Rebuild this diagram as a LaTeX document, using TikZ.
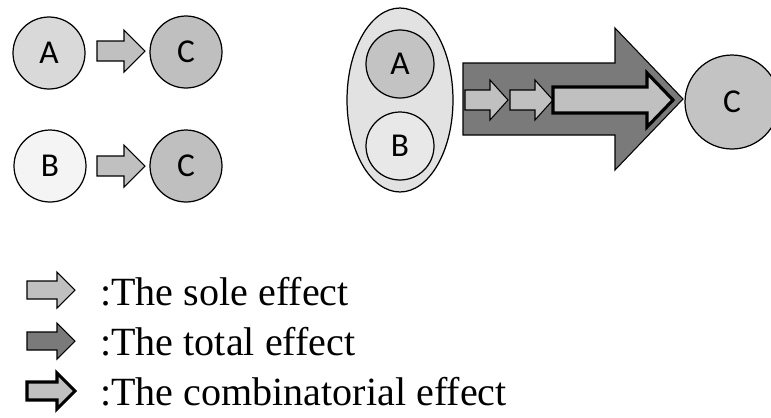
\documentclass[tikz,border=0pt]{standalone}
\usepackage{fontspec}
\setmainfont{Liberation Serif}
\newfontfamily\calibri{Carlito}
\usepackage{xcolor}
\usepackage{tikz}
\usetikzlibrary{shapes.geometric,positioning}

\definecolor{lightA}{HTML}{D9D9D9}
\definecolor{lightB}{HTML}{F4F4F4}
\definecolor{midC}{HTML}{BFBFBF}
\definecolor{soleGray}{HTML}{C0C0C0}
\definecolor{totalGray}{HTML}{7A7A7A}
\definecolor{ovalGray}{HTML}{E2E2E2}

% block arrow: [style]{x start}{x head}{x tip}{y centre}{shaft half}{head half}
\newcommand{\effarrow}[7][]{%
  \draw[#1] (#2,#5-#6) -- (#3,#5-#6) -- (#3,#5-#7) -- (#4,#5)
    -- (#3,#5+#7) -- (#3,#5+#6) -- (#2,#5+#6) -- cycle;}

\tikzset{
  ball/.style={circle, draw, line width=0.7pt, inner sep=0pt,
    minimum size=1.44cm, font=\calibri\fontsize{19}{22}\selectfont},
  sole/.style={draw, fill=soleGray, line width=0.6pt, line join=miter},
  total/.style={draw, fill=totalGray, line width=0.6pt, line join=miter},
  combi/.style={draw, fill=soleGray, line width=1.8pt, line join=miter},
  legend/.style={anchor=base west, inner sep=0pt,
    font=\fontsize{22.8}{26}\selectfont}
}

\begin{document}
\begin{tikzpicture}[x=0.02cm, y=-0.02cm]
  \useasboundingbox (0,0) rectangle (771,417);

  % single effects
  \node[ball, fill=lightA] (A1) at (49,53) {A};
  \node[ball, fill=midC] (C1) at (186,52) {C};
  \node[ball, fill=lightB] (B2) at (50,166) {B};
  \node[ball, fill=midC] (C2) at (186,166) {C};
  \effarrow[sole]{97}{124}{145}{51}{10}{21}
  \effarrow[sole]{97}{124}{145}{166}{10}{21}

  % joint effect
  \node[ellipse, draw, line width=0.7pt, fill=ovalGray,
    minimum width=2.12cm, minimum height=3.68cm] (AB) at (400,100) {};
  \node[ball, fill=lightA!90!black, minimum size=1.36cm] (A3) at (400,64) {A};
  \node[ball, fill=lightB!95!black, minimum size=1.36cm] (B3) at (400,146) {B};
  \node[ball, fill=soleGray!95!white, minimum size=1.88cm] (C3) at (732,102) {C};
  \effarrow[total]{463}{615}{683}{99}{36}{71}
  \effarrow[sole]{465}{490}{508}{100}{10}{20}
  \effarrow[sole]{510}{535}{553}{100}{10}{20}
  \effarrow[combi]{553}{647}{673}{100}{13}{27}

  % legend
  \effarrow[sole]{27}{57}{75}{290}{9}{18}
  \effarrow[total]{27}{57}{75}{341}{9}{18}
  \effarrow[combi]{27}{57}{75}{391}{9}{18}
  \node[legend] (l1) at (100,305) {:The sole effect};
  \node[legend] (l2) at (100,355) {:The total effect};
  \node[legend] (l3) at (100,405) {:The combinatorial effect};

\end{tikzpicture}
\end{document}
